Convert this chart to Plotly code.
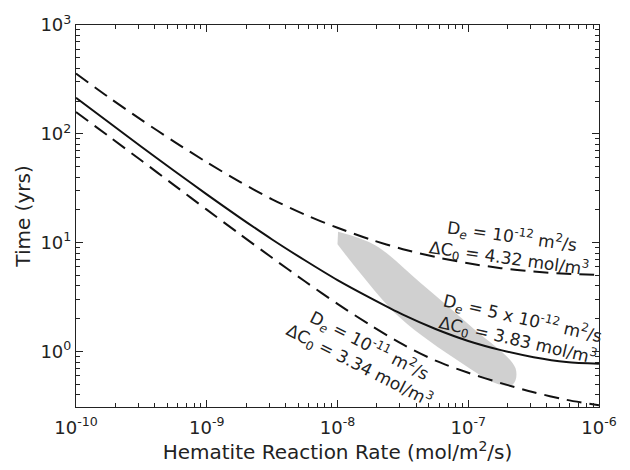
import plotly.graph_objects as go

# ---- data ----
log_rate = [-10, -9.75, -9.5, -9.25, -9, -8.75, -8.5, -8.25, -8, -7.75, -7.5, -7.25, -7, -6.75, -6.5, -6.25, -6]
rate = [10 ** v for v in log_rate]

time_mid = [214.8, 127.6, 76.2, 45.8, 27.8, 17.1, 10.7, 6.89, 4.53, 3.11, 2.18, 1.61, 1.25, 1.03, 0.887, 0.80, 0.77]
time_upper = [358, 216.8, 134.3, 84.9, 54.8, 36.4, 25.0, 18.1, 13.7, 10.7, 8.71, 7.38, 6.46, 5.83, 5.42, 5.18, 5.06]
time_lower = [158.5, 95.1, 56.8, 33.8, 20.1, 12.05, 7.26, 4.42, 2.74, 1.75, 1.16, 0.824, 0.637, 0.512, 0.422, 0.360, 0.32]

# shaded region outline (rate, time)
shade_rate = [1.01e-8, 1.94e-8, 4.28e-8, 1.03e-7, 2.3e-7, 2.2e-7, 1.7e-7, 8.65e-8, 3.01e-8, 1.49e-8, 1.0e-8]
shade_time = [12.6, 9.48, 4.30, 1.73, 0.70, 0.50, 0.50, 0.80, 2.04, 5.27, 9.68]

x_tickvals = [1e-10, 1e-9, 1e-8, 1e-7, 1e-6]
x_ticktext = ["10<sup>-10</sup>", "10<sup>-9</sup>", "10<sup>-8</sup>", "10<sup>-7</sup>", "10<sup>-6</sup>"]
y_tickvals = [1, 10, 100, 1000]
y_ticktext = ["10<sup>0</sup>", "10<sup>1</sup>", "10<sup>2</sup>", "10<sup>3</sup>"]

label_upper = "D<sub><i>e</i></sub> = 10<sup>-12</sup> m<sup>2</sup>/s<br>ΔC<sub>0</sub> = 4.32 mol/m<sup>3</sup>"
label_mid = "D<sub><i>e</i></sub> = 5 x 10<sup>-12</sup> m<sup>2</sup>/s<br>ΔC<sub>0</sub> = 3.83 mol/m<sup>3</sup>"
label_lower = "D<sub><i>e</i></sub> = 10<sup>-11</sup> m<sup>2</sup>/s<br>ΔC<sub>0</sub> = 3.34 mol/m<sup>3</sup>"

x_minor = [m * 10 ** e for e in range(-10, -6) for m in range(2, 10)]
y_minor = [m * 10 ** e for e in range(-1, 3) for m in range(2, 10)]

FONT = "DejaVu Sans"
INK = "#222222"

fig = go.Figure()
fig.add_trace(go.Scatter(x=shade_rate, y=shade_time, fill="toself", mode="lines",
                         fillcolor="rgba(200,200,200,0.85)", line=dict(width=0, shape="spline"),
                         hoverinfo="skip", showlegend=False))
fig.add_trace(go.Scatter(x=rate, y=time_upper, mode="lines",
                         line=dict(color="#111111", width=2, dash="15px,8px", shape="spline", smoothing=0.8),
                         showlegend=False))
fig.add_trace(go.Scatter(x=rate, y=time_mid, mode="lines",
                         line=dict(color="#111111", width=2, shape="spline", smoothing=0.8), showlegend=False))
fig.add_trace(go.Scatter(x=rate, y=time_lower, mode="lines",
                         line=dict(color="#111111", width=2, dash="15px,8px", shape="spline", smoothing=0.8),
                         showlegend=False))

common_axis = dict(showline=True, linecolor=INK, linewidth=1.2, mirror="allticks",
                   ticks="inside", ticklen=7, tickcolor=INK, showgrid=False, zeroline=False,
                   tickfont=dict(family=FONT, size=18, color=INK))

fig.update_xaxes(type="log", range=[-10, -6], tickvals=x_tickvals, ticktext=x_ticktext,
                 ticklabelstandoff=4,
                 minor=dict(ticks="inside", ticklen=4, tickcolor=INK, showgrid=False, tickvals=x_minor),
                 title=dict(text="Hematite Reaction Rate (mol/m<sup>2</sup>/s)",
                            font=dict(family=FONT, size=20, color=INK), standoff=6),
                 **common_axis)
fig.update_yaxes(type="log", range=[-0.51, 3], tickvals=y_tickvals, ticktext=y_ticktext,
                 minor=dict(ticks="inside", ticklen=4, tickcolor=INK, showgrid=False, tickvals=y_minor),
                 title=dict(text="Time (yrs)", font=dict(family=FONT, size=20, color=INK), standoff=4),
                 **common_axis)

ann_font = dict(family=FONT, size=17, color=INK)
for lbl, px, py, ang in [(label_upper, 0.83, 0.417, 8),
                         (label_mid, 0.849, 0.2035, 13),
                         (label_lower, 0.551, 0.136, 27)]:
    fig.add_annotation(xref="paper", yref="paper", x=px, y=py, text=lbl, showarrow=False,
                       xanchor="center", yanchor="middle", textangle=ang, font=ann_font, align="center")

fig.update_layout(width=630, height=470, margin=dict(l=76, r=31, t=16, b=56),
                  paper_bgcolor="white", plot_bgcolor="white",
                  font=dict(family=FONT, color=INK))

fig.write_html("out.html")
